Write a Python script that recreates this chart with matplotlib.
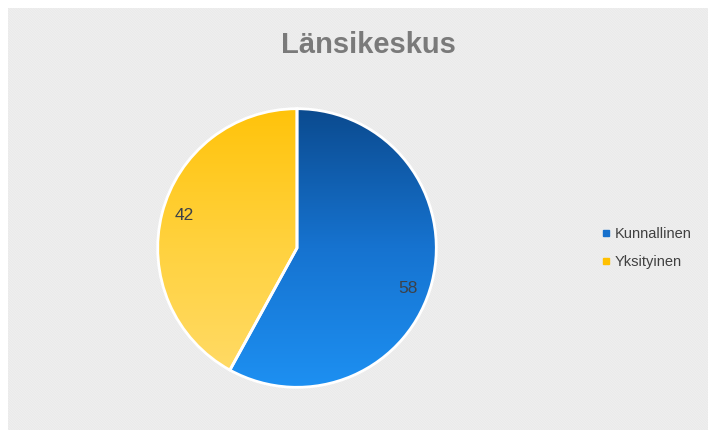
import numpy as np
import matplotlib
matplotlib.use("Agg")
import matplotlib.pyplot as plt
from matplotlib.patches import Rectangle
from matplotlib.lines import Line2D
from matplotlib.colors import LinearSegmentedColormap

title = "Länsikeskus"
categories = ["Kunnallinen", "Yksityinen"]
values = [58, 42]

plt.rcParams['font.family'] = ['Liberation Sans', 'DejaVu Sans']
plt.rcParams['hatch.linewidth'] = 0.5

W, H = 708, 430
fig = plt.figure(figsize=(W / 100, H / 100), dpi=100)
fig.patch.set_facecolor('white')

# hatched panel background
panel = Rectangle((8 / W, 0), 1 - 8 / W, 1 - 8 / H, transform=fig.transFigure,
                  facecolor='#f5f5f5', edgecolor='#e6e6e6', hatch='\\\\' * 10,
                  linewidth=0, zorder=-5)
fig.patches.append(panel)

fig.text(368 / W, 1 - 45 / H, title, ha='center', va='center',
         fontsize=21, fontweight='bold', color='#7a7a7a')

cx, cy, r = 297, 248, 140
ax = fig.add_axes([(cx - r) / W, (H - cy - r) / H, 2 * r / W, 2 * r / H])
ax.set_zorder(2)
ax.patch.set_visible(False)
ax.axis('off')

total = sum(values)
wedges, texts, autotexts = ax.pie(
    values, startangle=90, counterclock=False, radius=0.995,
    colors=['#1565c0', '#ffc000'],
    wedgeprops=dict(edgecolor='white', linewidth=2),
    autopct=lambda p: f"{round(p * total / 100)}", pctdistance=0.84,
    textprops=dict(fontsize=12.5, color='#3c4148'))
ax.set_xlim(-1, 1)
ax.set_ylim(-1, 1)

# Excel-style "best fit" nudges of the data labels (angle offset in degrees)
label_nudge = [-5.5, -1.5]
for w, t, d in zip(wedges, autotexts, label_nudge):
    mid = np.deg2rad((w.theta1 + w.theta2) / 2 + d)
    t.set_position((0.84 * np.cos(mid), 0.84 * np.sin(mid)))

grads = [
    LinearSegmentedColormap.from_list('b', ['#1d90f2', '#1673d0', '#0b4a8e']),
    LinearSegmentedColormap.from_list('y', ['#ffdb6a', '#ffd23f', '#ffc30a']),
]
g = np.linspace(0, 1, 256).reshape(-1, 1)
for w, cmap in zip(wedges, grads):
    im = ax.imshow(g, cmap=cmap, extent=[-1, 1, -1, 1], origin='lower',
                   aspect='auto', zorder=1)
    im.set_clip_path(w)
    w.set_facecolor('none')
    w.set_zorder(2)
for t in autotexts:
    t.set_zorder(3)
ax.set_xlim(-1, 1)
ax.set_ylim(-1, 1)

handles = [Line2D([], [], marker='s', linestyle='none', markersize=5,
                  color=c) for c in ['#1670cc', '#ffc000']]
fig.legend(handles, categories, loc='center left',
           bbox_to_anchor=(588 / W, 1 - 248 / H), frameon=False,
           fontsize=10.5, labelcolor='#404040', handlelength=0.6,
           handletextpad=0.3, labelspacing=1.0)

fig.savefig('out.png', dpi=100)
